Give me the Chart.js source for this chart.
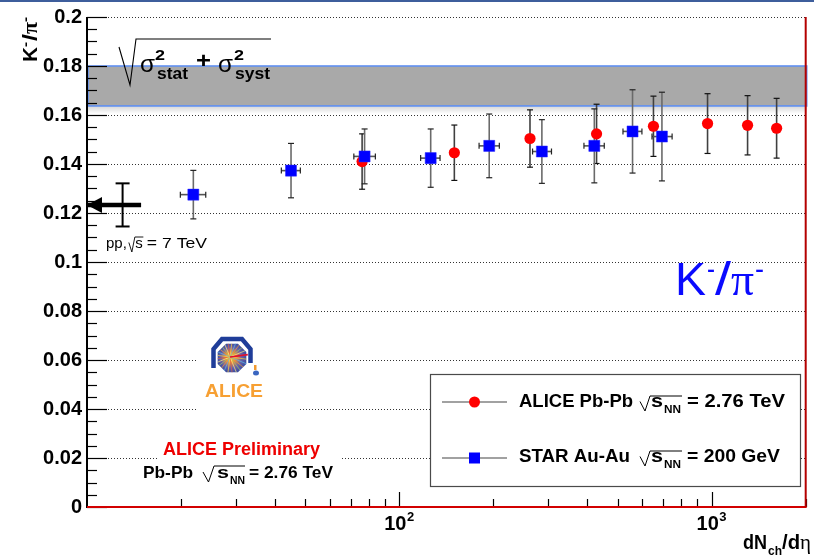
<!DOCTYPE html>
<html>
<head>
<meta charset="utf-8">
<script src="https://cdn.jsdelivr.net/npm/chart.js@4.4.1/dist/chart.umd.min.js"></script>
<style>
  html, body { margin: 0; padding: 0; background: #ffffff; }
  #wrap { position: relative; width: 814px; height: 555px; }
</style>
</head>
<body>
<div id="wrap"><canvas id="c" width="814" height="555"></canvas></div>
<script>
// ALICE Pb-Pb, sqrt(sNN) = 2.76 TeV : K-/pi- vs dNch/deta
const aliceMult  = [76, 150, 262, 428, 651, 970, 1303, 1614];
const aliceRatio = [0.1410, 0.1446, 0.1504, 0.1523, 0.1554, 0.1565, 0.1558, 0.1546];
const aliceErr   = [0.0113, 0.0113, 0.0117, 0.0121, 0.0123, 0.0122, 0.0121, 0.0122];

// STAR Au-Au, sqrt(sNN) = 200 GeV
const starMult   = [21.9, 45, 77.4, 126, 194, 286, 421, 558, 693];
const starMultLo = [19.9, 41.9, 71.5, 117, 180, 267, 390, 520, 644];
const starMultHi = [24.0, 48.2, 83.8, 135, 209, 307, 453, 598, 747];
const starRatio  = [0.1275, 0.1373, 0.1431, 0.1424, 0.1474, 0.1451, 0.1474, 0.1533, 0.1512];
const starErr    = [0.0099, 0.0111, 0.0112, 0.0119, 0.0130, 0.0130, 0.0151, 0.0170, 0.0181];

// pp at sqrt(s) = 7 TeV reference value (arrow)
const ppMult = 13.0;
const ppArrowEnd = 14.9;
const ppRatio = 0.1233;
const ppErr = 0.0088;

// combined uncertainty band
const bandLow = 0.1637;
const bandHigh = 0.18;

// axes
const xMin = 10, xMax = 2000;
const yMin = 0, yMax = 0.2;
const yMajorTicks = [0, 0.02, 0.04, 0.06, 0.08, 0.1, 0.12, 0.14, 0.16, 0.18, 0.2];
const yTickLabels = ['0', '0.02', '0.04', '0.06', '0.08', '0.1', '0.12', '0.14', '0.16', '0.18', '0.2'];
const yMinorStep = 0.005;
const xMajorTicks = [100, 1000];
const xTickBase = ['10', '10'];
const xTickExp = ['2', '3'];
const xMinorTicks = [20, 30, 40, 50, 60, 70, 80, 90, 200, 300, 400, 500, 600, 700, 800, 900, 2000];

const SANS = '"Liberation Sans", Arial, Helvetica, sans-serif';
const SERIF = '"Liberation Serif", "DejaVu Serif", serif';

// draw a string, optionally squeezed/stretched to span x0..x1; returns right edge
function span(ctx, str, x0, x1, base, font, color) {
  ctx.save();
  ctx.font = font;
  ctx.fillStyle = color;
  ctx.textAlign = 'left';
  ctx.textBaseline = 'alphabetic';
  const w = ctx.measureText(str).width;
  const s = (x1 != null && w > 0) ? (x1 - x0) / w : 1;
  ctx.translate(x0, base);
  ctx.scale(s, 1);
  ctx.fillText(str, 0, 0);
  ctx.restore();
  return x0 + w * s;
}

// radical sign: hook at x, bottom below baseline, rising to top, overline to xEnd
function radical(ctx, x, base, h, w, xEnd, lw, color) {
  ctx.save();
  ctx.strokeStyle = color || '#000';
  ctx.lineWidth = lw;
  ctx.lineJoin = 'miter';
  ctx.beginPath();
  ctx.moveTo(x, base - h * 0.5);
  ctx.lineTo(x + w * 0.5, base + 4);
  ctx.lineTo(x + w, base - h);
  ctx.lineTo(xEnd, base - h);
  ctx.stroke();
  ctx.restore();
}

function seg(ctx, x0, y0, x1, y1) {
  ctx.beginPath();
  ctx.moveTo(x0, y0);
  ctx.lineTo(x1, y1);
  ctx.stroke();
}

function drawLogo(ctx, cx, cy) {
  ctx.save();
  // outer arch
  ctx.lineWidth = 4.5;
  ctx.strokeStyle = '#1f3d99';
  ctx.lineJoin = 'miter';
  ctx.beginPath();
  ctx.moveTo(cx - 18.5, cy + 10);
  ctx.lineTo(cx - 18.5, cy - 9);
  ctx.lineTo(cx - 10, cy - 19);
  ctx.lineTo(cx + 10, cy - 19);
  ctx.lineTo(cx + 18.5, cy - 9);
  ctx.lineTo(cx + 18.5, cy + 5);
  ctx.stroke();
  // octagon detector view
  const r = 15.5;
  ctx.beginPath();
  for (let i = 0; i < 8; i++) {
    const a = Math.PI / 8 + i * Math.PI / 4;
    const px = cx + r * Math.cos(a), py = cy + r * Math.sin(a);
    if (i === 0) ctx.moveTo(px, py); else ctx.lineTo(px, py);
  }
  ctx.closePath();
  const g = ctx.createRadialGradient(cx - 2, cy - 1, 0.5, cx, cy, r);
  g.addColorStop(0, '#ffe060');
  g.addColorStop(0.3, '#f08c3a');
  g.addColorStop(0.65, '#6a62a8');
  g.addColorStop(1, '#34489e');
  ctx.fillStyle = g;
  ctx.fill();
  ctx.save();
  ctx.clip();
  const rayCols = ['#ffd23a', '#58c0e8', '#f0a030', '#9ad060', '#ffef80', '#e06040'];
  ctx.lineWidth = 0.7;
  for (let i = 0; i < 24; i++) {
    const a = i * Math.PI / 12 + 0.13;
    ctx.strokeStyle = rayCols[i % rayCols.length];
    seg(ctx, cx - 2, cy - 1, cx - 2 + 18 * Math.cos(a), cy - 1 + 18 * Math.sin(a));
  }
  ctx.restore();
  ctx.lineWidth = 1.6;
  ctx.strokeStyle = '#e01030';
  ctx.stroke();
  // small figure
  ctx.fillStyle = '#f29a30';
  ctx.fillRect(cx + 22, cy + 7, 2.5, 5);
  ctx.fillStyle = '#3a66c0';
  ctx.beginPath();
  ctx.ellipse(cx + 24, cy + 15, 3, 2.5, 0, 0, Math.PI * 2);
  ctx.fill();
  ctx.restore();
  span(ctx, 'ALICE', cx - 27, cx + 31, cy + 38.5, 'bold 19px ' + SANS, '#f7a033');
}

const decor = {
  id: 'decor',
  beforeDatasetsDraw(chart) {
    const { ctx, chartArea: a, scales: { x, y } } = chart;
    ctx.save();

    // header rule
    ctx.fillStyle = '#3e5e9c';
    ctx.fillRect(0, 0, 814, 2);

    // dotted grid at major y ticks
    ctx.strokeStyle = '#333';
    ctx.lineWidth = 1;
    ctx.setLineDash([1, 2]);
    yMajorTicks.forEach(v => {
      if (v === yMin) return;
      const py = Math.round(y.getPixelForValue(v)) + 0.5;
      seg(ctx, a.left, py, a.right, py);
    });
    ctx.setLineDash([]);

    // uncertainty band with soft shadow below
    const bTop = y.getPixelForValue(bandHigh);
    const bBot = y.getPixelForValue(bandLow);
    const sh = ctx.createLinearGradient(0, bBot, 0, bBot + 8);
    sh.addColorStop(0, 'rgba(0,0,0,0.16)');
    sh.addColorStop(1, 'rgba(0,0,0,0)');
    ctx.fillStyle = sh;
    ctx.fillRect(a.left + 1, bBot, a.right - a.left, 8);
    ctx.fillStyle = '#a9a9a9';
    ctx.fillRect(a.left + 1, bTop, a.right - a.left, bBot - bTop);
    ctx.strokeStyle = '#6090f2';
    ctx.lineWidth = 1.6;
    ctx.strokeRect(a.left + 1, bTop, a.right - a.left, bBot - bTop);

    // white panes behind the logo and the preliminary label
    ctx.fillStyle = '#ffffff';
    ctx.fillRect(198, 321, 102, 95);
    ctx.fillRect(158, 437, 184, 48);

    // y ticks (inside)
    ctx.strokeStyle = '#000';
    ctx.lineWidth = 1.2;
    for (let v = yMin; v <= yMax + 1e-9; v += yMinorStep) {
      const major = yMajorTicks.some(t => Math.abs(t - v) < 1e-6);
      const py = Math.round(y.getPixelForValue(v)) + 0.5;
      seg(ctx, a.left, py, a.left + (major ? 20 : 10), py);
    }
    // x ticks (inside)
    xMajorTicks.forEach(v => {
      const px = Math.round(x.getPixelForValue(v)) + 0.5;
      seg(ctx, px, a.bottom, px, a.bottom - 15);
    });
    xMinorTicks.forEach(v => {
      const px = Math.round(x.getPixelForValue(v)) + 0.5;
      seg(ctx, px, a.bottom, px, a.bottom - 8);
    });

    // frame
    ctx.strokeStyle = '#000';
    ctx.lineWidth = 2;
    seg(ctx, a.left, a.top, a.left, a.bottom + 1);
    ctx.strokeStyle = '#d20000';
    seg(ctx, a.left, a.bottom, a.right + 1, a.bottom);
    ctx.strokeStyle = '#b40000';
    seg(ctx, a.right, a.top, a.right, a.bottom);

    // error bars
    const vbar = (xv, yv, e, col, capCol) => {
      const px = x.getPixelForValue(xv);
      const p0 = y.getPixelForValue(yv - e), p1 = y.getPixelForValue(yv + e);
      ctx.strokeStyle = col;
      ctx.lineWidth = 1.6;
      seg(ctx, px, p0, px, p1);
      ctx.strokeStyle = capCol;
      ctx.lineWidth = 1.2;
      seg(ctx, px - 3, p0, px + 3, p0);
      seg(ctx, px - 3, p1, px + 3, p1);
    };
    aliceMult.forEach((m, i) => vbar(m, aliceRatio[i], aliceErr[i], '#404040', '#111'));
    starMult.forEach((m, i) => {
      vbar(m, starRatio[i], starErr[i], '#6a6a6a', '#222');
      const py = y.getPixelForValue(starRatio[i]);
      const l = x.getPixelForValue(starMultLo[i]), r = x.getPixelForValue(starMultHi[i]);
      ctx.strokeStyle = '#555';
      ctx.lineWidth = 1.6;
      seg(ctx, l, py, r, py);
      ctx.strokeStyle = '#222';
      ctx.lineWidth = 1.2;
      seg(ctx, l, py - 3, l, py + 3);
      seg(ctx, r, py - 3, r, py + 3);
    });

    // pp reference error bar
    {
      const px = x.getPixelForValue(ppMult);
      const p0 = y.getPixelForValue(ppRatio - ppErr), p1 = y.getPixelForValue(ppRatio + ppErr);
      ctx.strokeStyle = '#000';
      ctx.lineWidth = 2;
      seg(ctx, px, p0, px, p1);
      seg(ctx, px - 7, p0, px + 7, p0);
      seg(ctx, px - 7, p1, px + 7, p1);
    }
    ctx.restore();
  },
  afterDatasetsDraw(chart) {
    const { ctx, chartArea: a, scales: { x, y } } = chart;
    ctx.save();

    // arrow head of the pp reference
    const tipX = x.getPixelForValue(xMin), tipY = y.getPixelForValue(ppRatio);
    ctx.fillStyle = '#000';
    ctx.beginPath();
    ctx.moveTo(tipX, tipY);
    ctx.lineTo(tipX + 15, tipY - 8);
    ctx.lineTo(tipX + 15, tipY + 8);
    ctx.closePath();
    ctx.fill();

    // band label: sqrt(sigma_stat^2 + sigma_syst^2)
    ctx.strokeStyle = '#000';
    ctx.lineWidth = 1.1;
    ctx.beginPath();
    ctx.moveTo(119, 47);
    ctx.lineTo(130, 85);
    ctx.lineTo(136, 39);
    ctx.lineTo(271, 39);
    ctx.stroke();
    span(ctx, '\u03C3', 140, 155, 72, '24px ' + SANS, '#000');
    span(ctx, '2', 155, 165, 60, 'bold 15px ' + SANS, '#000');
    span(ctx, 'stat', 157, 188, 79, 'bold 16px ' + SANS, '#000');
    span(ctx, '+', 196, 211, 68, 'bold 22px ' + SANS, '#000');
    span(ctx, '\u03C3', 218, 233, 72, '24px ' + SANS, '#000');
    span(ctx, '2', 234, 244, 60, 'bold 15px ' + SANS, '#000');
    span(ctx, 'syst', 235, 270, 79, 'bold 16px ' + SANS, '#000');

    // pp label, laid out left to right
    {
      const f = '15px ' + SANS;
      let cx = span(ctx, 'pp,', 106, null, 248, f, '#000') + 2;
      ctx.font = f;
      const sw = ctx.measureText('s').width;
      radical(ctx, cx, 248, 11, 6, cx + 6 + sw + 1, 0.9, '#000');
      cx = span(ctx, 's', cx + 6.5, null, 248, f, '#000') + 4;
      span(ctx, '= 7 TeV', cx, 207, 248, f, '#000');
    }

    // big ratio label
    span(ctx, 'K', 675, 706, 295, '47px ' + SANS, '#0a0aff');
    span(ctx, '-', 707, 715, 279, '30px ' + SANS, '#0a0aff');
    span(ctx, '/', 715, 731, 295, '47px ' + SANS, '#0a0aff');
    span(ctx, '\u03C0', 731, 754, 295, '47px ' + SERIF, '#0a0aff');
    span(ctx, '-', 755, 764, 279, '30px ' + SANS, '#0a0aff');

    // logo
    drawLogo(ctx, 232, 358);

    // preliminary label
    span(ctx, 'ALICE Preliminary', 163, 320, 455, 'bold 18px ' + SANS, '#ee0000');
    span(ctx, 'Pb-Pb', 143, 193, 478, 'bold 17px ' + SANS, '#000');
    radical(ctx, 203, 478, 12, 11, 245, 1, '#000');
    span(ctx, 's', 217, 229, 478, 'bold 17px ' + SANS, '#000');
    span(ctx, 'NN', 230, 245, 484, 'bold 11px ' + SANS, '#000');
    span(ctx, '= 2.76 TeV', 249, 333, 478, 'bold 17px ' + SANS, '#000');

    // legend
    ctx.fillStyle = '#fff';
    ctx.fillRect(430, 374, 370, 112);
    ctx.strokeStyle = '#4a4a4a';
    ctx.lineWidth = 1.2;
    ctx.strokeRect(430.5, 374.5, 370, 112);
    const rows = [
      { y: 402, base: 407, name: 'ALICE Pb-Pb', nameEnd: 633, val: '= 2.76 TeV', valEnd: 785, col: '#ff0000', style: 'circle' },
      { y: 458, base: 462, name: 'STAR Au-Au', nameEnd: 630, val: '= 200 GeV', valEnd: 780, col: '#0000ff', style: 'rect' }
    ];
    rows.forEach(r => {
      ctx.strokeStyle = '#444';
      ctx.lineWidth = 1.2;
      seg(ctx, 442, r.y, 507, r.y);
      ctx.fillStyle = r.col;
      if (r.style === 'circle') {
        ctx.beginPath();
        ctx.arc(474.5, r.y, 5.5, 0, Math.PI * 2);
        ctx.fill();
      } else {
        ctx.fillRect(469, r.y - 5.5, 11, 11);
      }
      span(ctx, r.name, 519, r.nameEnd, r.base, 'bold 18px ' + SANS, '#000');
      radical(ctx, 640, r.base, 11, 10, 682, 1, '#000');
      span(ctx, 's', 651, 663, r.base, 'bold 18px ' + SANS, '#000');
      span(ctx, 'NN', 664, 681, r.base + 6, 'bold 11px ' + SANS, '#000');
      span(ctx, r.val, 687, r.valEnd, r.base, 'bold 18px ' + SANS, '#000');
    });

    // x tick labels (power of ten)
    xMajorTicks.forEach((v, i) => {
      const px = x.getPixelForValue(v);
      ctx.font = 'bold 20px ' + SANS;
      const w = ctx.measureText(xTickBase[i]).width;
      const x0 = px - 4 - w / 2;
      span(ctx, xTickBase[i], x0, null, 530, 'bold 20px ' + SANS, '#000');
      span(ctx, xTickExp[i], x0 + w + 0.5, null, 521, 'bold 13px ' + SANS, '#000');
    });

    // x axis title
    span(ctx, 'dN', 743, 767, 549, 'bold 20px ' + SANS, '#000');
    span(ctx, 'ch', 768, 782, 555, 'bold 13px ' + SANS, '#000');
    span(ctx, '/d', 782, 800, 549, 'bold 20px ' + SANS, '#000');
    span(ctx, '\u03B7', 800, 811, 549, '20px ' + SERIF, '#000');

    // y axis title (rotated)
    ctx.save();
    ctx.translate(37, 62);
    ctx.rotate(-Math.PI / 2);
    span(ctx, 'K', 0, 15, 0, 'bold 20px ' + SANS, '#000');
    span(ctx, '-', 15, 20, -7, 'bold 13px ' + SANS, '#000');
    span(ctx, '/', 21, 28, 0, 'bold 20px ' + SANS, '#000');
    span(ctx, '\u03C0', 28, 40, 0, 'bold 20px ' + SERIF, '#000');
    span(ctx, '-', 40, 45, -7, 'bold 13px ' + SANS, '#000');
    ctx.restore();

    ctx.restore();
  }
};

new Chart(document.getElementById('c'), {
  type: 'scatter',
  data: {
    datasets: [
      {
        label: 'STAR Au-Au',
        order: 0,
        data: starMult.map((m, i) => ({ x: m, y: starRatio[i] })),
        pointStyle: 'rect',
        pointRadius: 7.8,
        backgroundColor: '#0000ff',
        borderColor: '#2a2aff',
        borderWidth: 0.5
      },
      {
        label: 'ALICE Pb-Pb',
        order: 1,
        data: aliceMult.map((m, i) => ({ x: m, y: aliceRatio[i] })),
        pointStyle: 'circle',
        pointRadius: 5.6,
        backgroundColor: '#ff0000',
        borderColor: '#ff0000',
        borderWidth: 0
      },
      {
        label: 'pp 7 TeV',
        order: 2,
        data: [{ x: xMin, y: ppRatio }, { x: ppArrowEnd, y: ppRatio }],
        showLine: true,
        borderColor: '#000',
        borderWidth: 4.5,
        pointRadius: 0
      }
    ]
  },
  options: {
    responsive: false,
    animation: false,
    events: [],
    layout: { padding: { top: 15, right: 6, left: 0, bottom: 0 } },
    plugins: { legend: { display: false }, tooltip: { enabled: false } },
    scales: {
      x: {
        type: 'logarithmic',
        min: xMin,
        max: xMax,
        ticks: { display: false },
        grid: { display: false, drawTicks: false },
        border: { display: false },
        afterFit: s => { s.height = 48; }
      },
      y: {
        type: 'linear',
        min: yMin,
        max: yMax,
        afterBuildTicks: s => { s.ticks = yMajorTicks.map(v => ({ value: v })); },
        ticks: {
          padding: 5,
          color: '#000',
          font: { family: SANS, size: 20, weight: 'bold' },
          callback: (v, i) => yTickLabels[i]
        },
        grid: { display: false, drawTicks: false },
        border: { display: false },
        afterFit: s => { s.width = 87; }
      }
    }
  },
  plugins: [decor]
});
</script>
</body>
</html>
